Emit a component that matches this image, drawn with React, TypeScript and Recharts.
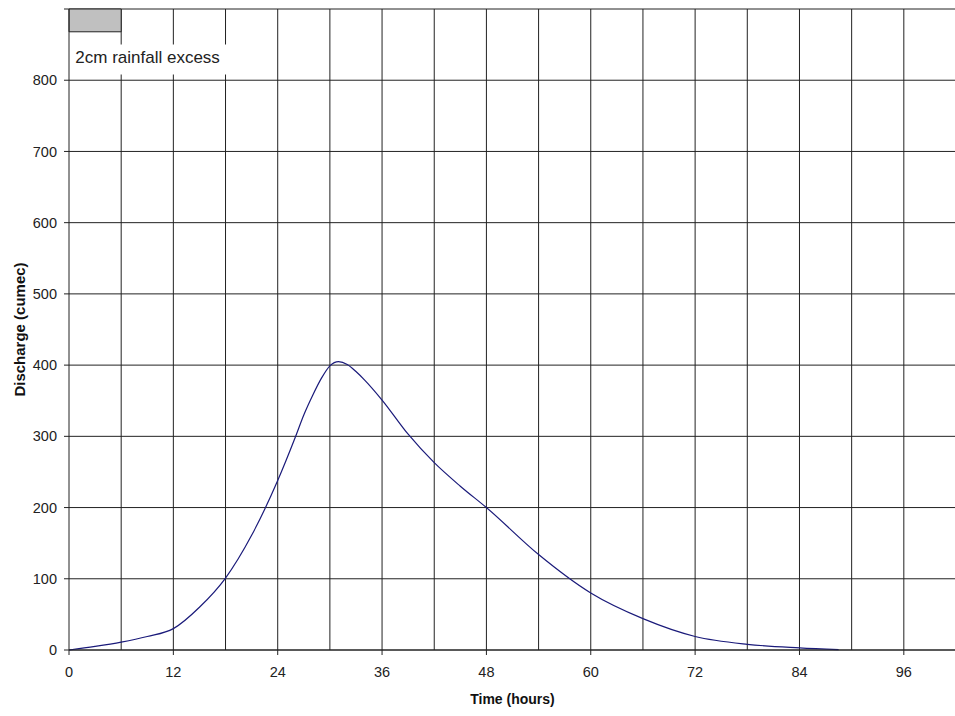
import React from 'react';
import { LineChart, Line, XAxis, YAxis, CartesianGrid, ReferenceArea } from 'recharts';

const hours = [0, 3, 6, 9, 12, 15, 18, 21, 24, 26, 27, 28, 29, 30, 31, 32, 33, 34, 36, 39, 42, 45, 48, 54, 60, 66, 72, 78, 84, 88.5];
const discharge = [0, 5, 11, 19, 30, 60, 101, 161, 238, 298, 330, 357, 381, 399, 405, 401, 391, 379, 351, 303, 263, 230, 200, 134, 80, 44, 19, 8, 3, 0.5];

const xTicks = [0, 12, 24, 36, 48, 60, 72, 84, 96];
const xGrid = [6, 12, 18, 24, 30, 36, 42, 48, 54, 60, 66, 72, 78, 84, 90, 96];
const yTicks = [0, 100, 200, 300, 400, 500, 600, 700, 800, 900];

// rainfall excess bar: 2cm over the first 6 hours (drawn on the inverted top band)
const rainStart = 0;
const rainEnd = 6;
const rainTop = 900;
const rainBottom = 868;
const rainLabel = '2cm rainfall excess';

const data = hours.map((h, i) => ({ t: h, q: discharge[i] }));

const FONT = '"Liberation Sans", Arial, sans-serif';

export default function App() {
  return (
    <div style={{ position: 'absolute', left: 0, top: 0, width: 955, height: 716, overflow: 'hidden', background: '#fff' }}>
      <LineChart width={956} height={716} data={data} margin={{ top: 9, right: 0, bottom: 0, left: 0 }}>
        <CartesianGrid stroke="#222" strokeWidth={1} verticalValues={xGrid} horizontalValues={yTicks} />
        <ReferenceArea x1={rainStart} x2={rainEnd} y1={rainBottom} y2={rainTop} fill="#c0c0c0" fillOpacity={1} stroke="#222" strokeWidth={1} ifOverflow="visible" />
        <ReferenceArea
          x1={0.15}
          x2={18.6}
          y1={808}
          y2={850}
          fill="#fff"
          fillOpacity={1}
          stroke="none"
          ifOverflow="visible"
          label={{ value: rainLabel, position: 'insideLeft', offset: 5, dy: -3, fontSize: 17, fill: '#222', fontFamily: FONT }}
        />
        <XAxis
          dataKey="t"
          type="number"
          domain={[0, 102]}
          ticks={xTicks}
          interval={0}
          height={66}
          stroke="#222"
          tickSize={5}
          tickMargin={12}
          tick={{ fontSize: 14.5, fill: '#222', fontFamily: FONT }}
          label={{ value: 'Time (hours)', position: 'insideBottom', offset: 12, fontSize: 14, fontWeight: 'bold', fill: '#111', fontFamily: FONT }}
        />
        <YAxis
          type="number"
          domain={[0, 900]}
          ticks={yTicks}
          interval={0}
          width={69}
          stroke="#222"
          tickSize={5}
          tickMargin={7}
          tickFormatter={(v) => (v === 900 ? '' : String(v))}
          tick={{ fontSize: 14.5, fill: '#222', fontFamily: FONT }}
          label={{ value: 'Discharge (cumec)', angle: -90, position: 'center', dx: -15, fontSize: 15, fontWeight: 'bold', fill: '#111', fontFamily: FONT }}
        />
        <Line type="monotone" dataKey="q" stroke="#1a1a7a" strokeWidth={1.2} dot={false} isAnimationActive={false} />
      </LineChart>
    </div>
  );
}
